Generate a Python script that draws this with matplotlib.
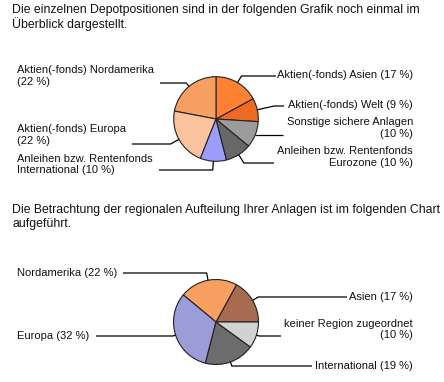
import numpy as np
import matplotlib
matplotlib.use("Agg")
import matplotlib.pyplot as plt

plt.rcParams['font.family'] = ['Liberation Sans', 'DejaVu Sans']

# ---- data ----
title1 = "Die einzelnen Depotpositionen sind in der folgenden Grafik noch einmal im\nÜberblick dargestellt."
title2 = "Die Betrachtung der regionalen Aufteilung Ihrer Anlagen ist im folgenden Chart\naufgeführt."

# counter-clockwise order
pos_labels = ["Aktien(-fonds) Welt", "Aktien(-fonds) Asien", "Aktien(-fonds) Nordamerika",
              "Aktien(-fonds) Europa", "Anleihen bzw. Rentenfonds International",
              "Anleihen bzw. Rentenfonds Eurozone", "Sonstige sichere Anlagen"]
pos_values = [9, 17, 22, 22, 10, 10, 10]
pos_texts = ["Aktien(-fonds) Welt (9 %)", "Aktien(-fonds) Asien (17 %)",
             "Aktien(-fonds) Nordamerika\n(22 %)", "Aktien(-fonds) Europa\n(22 %)",
             "Anleihen bzw. Rentenfonds\nInternational (10 %)",
             "Anleihen bzw. Rentenfonds\nEurozone (10 %)", "Sonstige sichere Anlagen\n(10 %)"]
pos_colors = ["#EE6A22", "#FD8234", "#F8A062", "#FBC29E", "#9C9CFA", "#686868", "#9C9C9C"]

reg_labels = ["Asien", "Nordamerika", "Europa", "International", "keiner Region zugeordnet"]
reg_values = [17, 22, 32, 19, 10]
reg_texts = ["Asien (17 %)", "Nordamerika (22 %)", "Europa (32 %)",
             "International (19 %)", "keiner Region zugeordnet\n(10 %)"]
reg_colors = ["#A96A52", "#F8A062", "#9C9CD8", "#6C6C6C", "#D2D2D2"]

# ---- layout (pixel space, y measured from top) ----
W, H = 444, 382
fig = plt.figure(figsize=(W / 100, H / 100), dpi=100)
ax = fig.add_axes([0, 0, 1, 1])
ax.set_aspect('equal')
ax.axis('off')


def Y(y):
    return H - y


FS_T = 8.8
FS_L = 8.0

ax.text(12, Y(17.5), title1, fontsize=FS_T, va='center', ha='left', linespacing=1.12, color='#111111')
ax.text(12, Y(217), title2, fontsize=FS_T, va='center', ha='left', linespacing=1.12, color='#111111')


def draw_pie(center, r, values, colors, start, texts, layout):
    cx, cy = center[0], Y(center[1])
    wedges, _ = ax.pie(values, colors=colors, startangle=start, counterclock=True,
                       center=(cx, cy), radius=r,
                       wedgeprops=dict(edgecolor='#222222', linewidth=0.8))
    for w, txt, (side, tx, ty, ly, xend) in zip(wedges, texts, layout):
        mid = np.deg2rad((w.theta1 + w.theta2) / 2)
        ux, uy = np.cos(mid), np.sin(mid)
        px, py = cx + r * ux, cy + r * uy
        target = Y(ly)
        if abs(uy) > 0.2:
            t = (target - py) / uy
            t = min(max(t, 0), 20)
        else:
            t = 0
        ex, ey = px + t * ux, py + t * uy
        ax.plot([px, ex, xend], [py, ey, ey], color='black', lw=0.9,
                solid_capstyle='butt')
        ha = 'left' if side == 'L' else 'right'
        ax.text(tx, Y(ty), txt, fontsize=FS_L, ha=ha, va='center',
                multialignment=ha, linespacing=1.15, color='#111111')
    return wedges


# (side, text x, text center y, leader y, leader end x)
top_layout = [
    ('R', 413, 105, 106, 284),
    ('R', 413, 75, 76, 276),
    ('L', 17, 76, 83, 160),
    ('L', 17, 135, 144, 132),
    ('L', 17, 164.5, 170, 159),
    ('R', 413, 157, 163, 274),
    ('R', 413, 128, 133, 283),
]
draw_pie((216, 119), 42.3, pos_values, pos_colors, -3.6, pos_texts, top_layout)

bot_layout = [
    ('R', 413, 297, 297, 347),
    ('L', 17, 273, 273, 123),
    ('L', 17, 336, 336, 96),
    ('R', 413, 366, 366, 312),
    ('R', 413, 329.5, 336, 281),
]
draw_pie((216, 322), 42.5, reg_values, reg_colors, 0, reg_texts, bot_layout)

ax.set_xlim(0, W)
ax.set_ylim(0, H)
fig.savefig("out.png", dpi=100)
